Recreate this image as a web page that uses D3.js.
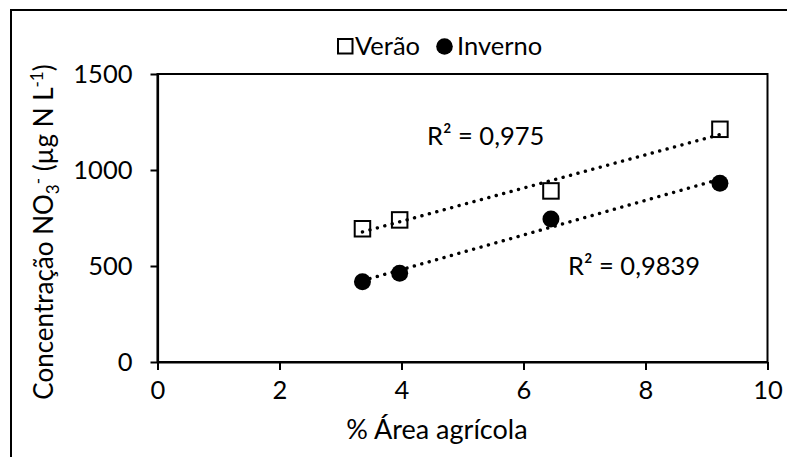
<!DOCTYPE html>
<html>
<head>
<meta charset="utf-8">
<script src="https://cdn.jsdelivr.net/npm/d3@7"></script>
<style>
  html, body { margin: 0; padding: 0; background: #fff; }
  svg { display: block; }
  text { font-family: Lato, "Open Sans", sans-serif; fill: #000; }
</style>
</head>
<body>
<svg id="chart" width="787" height="457"></svg>
<script>
// % agricultural area of each sampling catchment
const areaAgricola = [3.36, 3.97, 6.45, 9.22];
// nitrate concentration (µg N L-1) per season
const verao = [694, 740, 891, 1212];
const inverno = [418, 462, 745, 931];
const seriesNames = ["Verão", "Inverno"];
const r2Labels = ["R² = 0,975", "R² = 0,9839"];
const xTicks = [0, 2, 4, 6, 8, 10];
const yTicks = [0, 500, 1000, 1500];

const svg = d3.select("#chart");
const W = 787, H = 457;
const plot = { left: 157.5, right: 767.5, top: 74, bottom: 362 };
const fs = 25.5;

svg.append("rect").attr("width", W).attr("height", H).attr("fill", "#fff");

// outer chart frame (runs past the right and bottom edges)
svg.append("rect")
  .attr("x", 11).attr("y", 10)
  .attr("width", W + 20).attr("height", H + 20)
  .attr("fill", "none").attr("stroke", "#000").attr("stroke-width", 2);

const x = d3.scaleLinear().domain([0, 10]).range([plot.left, plot.right]);
const y = d3.scaleLinear().domain([0, 1500]).range([plot.bottom, plot.top]);

// plot area border
svg.append("rect")
  .attr("x", plot.left).attr("y", plot.top)
  .attr("width", plot.right - plot.left).attr("height", plot.bottom - plot.top)
  .attr("fill", "none").attr("stroke", "#000").attr("stroke-width", 2);

// axes
const xAxis = svg.append("g")
  .attr("transform", `translate(0,${plot.bottom})`)
  .call(d3.axisBottom(x).tickValues(xTicks).tickFormat(d3.format("d"))
    .tickSize(8).tickSizeOuter(0).tickPadding(11));
const yAxis = svg.append("g")
  .attr("transform", `translate(${plot.left},0)`)
  .call(d3.axisLeft(y).tickValues(yTicks).tickFormat(d3.format("d"))
    .tickSize(7).tickSizeOuter(0).tickPadding(18));

[xAxis, yAxis].forEach(g => {
  g.select(".domain").attr("stroke", "#000").attr("stroke-width", 2.2);
  g.selectAll(".tick line").attr("stroke", "#000").attr("stroke-width", 2);
  g.selectAll(".tick text")
    .attr("font-family", "Lato, sans-serif")
    .attr("font-size", fs)
    .attr("fill", "#000");
});
xAxis.selectAll(".tick text").attr("dy", "0.71em");

// least-squares trend line for one series
function fit(xs, ys) {
  const mx = d3.mean(xs), my = d3.mean(ys);
  let sxy = 0, sxx = 0;
  xs.forEach((v, i) => { sxy += (v - mx) * (ys[i] - my); sxx += (v - mx) * (v - mx); });
  const b = sxy / sxx, a = my - b * mx;
  const x0 = d3.min(xs), x1 = d3.max(xs);
  return [[x0, a + b * x0], [x1, a + b * x1]];
}

const line = d3.line().x(d => x(d[0])).y(d => y(d[1]));
[verao, inverno].forEach(ys => {
  svg.append("path")
    .attr("d", line(fit(areaAgricola, ys)))
    .attr("fill", "none")
    .attr("stroke", "#000")
    .attr("stroke-width", 3.4)
    .attr("stroke-linecap", "round")
    .attr("stroke-dasharray", "0.1 7.6");
});

// Verão: open squares
const sq = 15.5;
svg.append("g").selectAll("rect")
  .data(areaAgricola.map((v, i) => [v, verao[i]]))
  .join("rect")
  .attr("x", d => x(d[0]) - sq / 2)
  .attr("y", d => y(d[1]) - sq / 2)
  .attr("width", sq).attr("height", sq)
  .attr("fill", "none").attr("stroke", "#000").attr("stroke-width", 2);

// Inverno: filled circles
svg.append("g").selectAll("circle")
  .data(areaAgricola.map((v, i) => [v, inverno[i]]))
  .join("circle")
  .attr("cx", d => x(d[0]))
  .attr("cy", d => y(d[1]))
  .attr("r", 8.5)
  .attr("fill", "#000");

// R² annotations
svg.append("text").attr("x", 427).attr("y", 145).attr("font-size", fs).text(r2Labels[0]);
svg.append("text").attr("x", 568).attr("y", 275).attr("font-size", fs).text(r2Labels[1]);

// legend
const lg = svg.append("g");
lg.append("rect").attr("x", 338).attr("y", 39).attr("width", 14.5).attr("height", 14.5)
  .attr("fill", "none").attr("stroke", "#000").attr("stroke-width", 2);
lg.append("text").attr("x", 355).attr("y", 55).attr("font-size", fs).text(seriesNames[0]);
lg.append("circle").attr("cx", 444.5).attr("cy", 46.5).attr("r", 8.3).attr("fill", "#000");
lg.append("text").attr("x", 457).attr("y", 55).attr("font-size", fs).text(seriesNames[1]);

// axis titles
svg.append("text")
  .attr("x", 437).attr("y", 439)
  .attr("text-anchor", "middle")
  .attr("font-size", 27)
  .text("% Área agrícola");

const yt = svg.append("text")
  .attr("transform", "translate(53,232) rotate(-90)")
  .attr("text-anchor", "middle")
  .attr("font-size", 26);
yt.append("tspan").text("Concentração NO");
yt.append("tspan").attr("font-size", 17).attr("dy", 6).text("3");
yt.append("tspan").attr("font-size", 17).attr("dy", -15).text("-");
yt.append("tspan").attr("dy", 9).text(" (µg N L");
yt.append("tspan").attr("font-size", 17).attr("dy", -10).text("-1");
yt.append("tspan").attr("dy", 10).text(")");
</script>
</body>
</html>
